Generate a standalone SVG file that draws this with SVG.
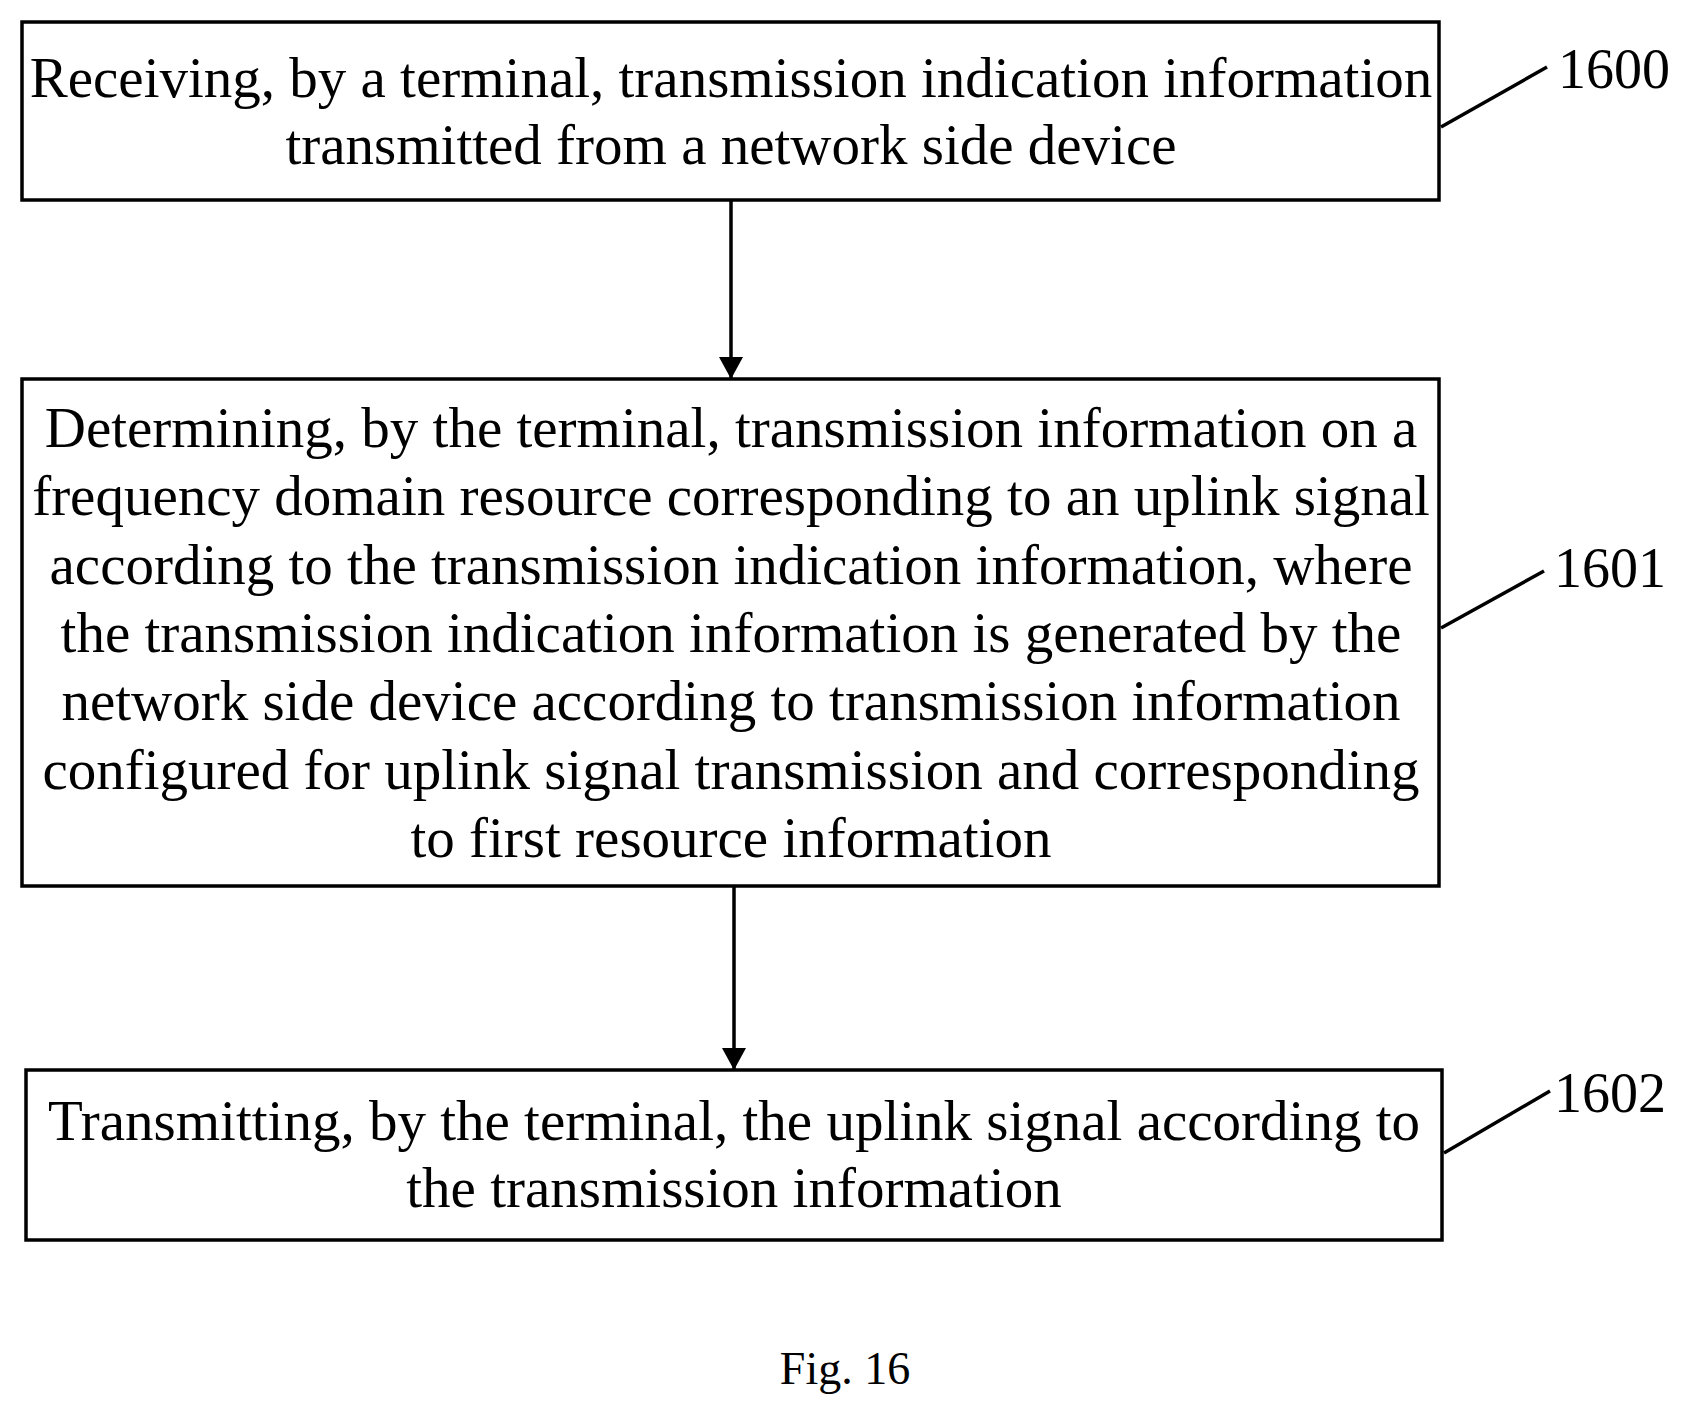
<svg xmlns="http://www.w3.org/2000/svg" width="1691" height="1412" viewBox="0 0 1691 1412">
<style>
.b{fill:#fff;stroke:#000;stroke-width:3.5}
.t{font-family:"Liberation Serif",serif;font-size:57px;text-anchor:middle;fill:#000}
.n{font-family:"Liberation Serif",serif;font-size:56px;fill:#000}
.l{stroke:#000;stroke-width:3.5;fill:none}
</style>
<defs><marker id="a" markerWidth="22" markerHeight="24" refX="22" refY="12" orient="auto" markerUnits="userSpaceOnUse" viewBox="0 0 22 24"><path d="M0,0 L22,12 L0,24 z" fill="#000"/></marker></defs>
<rect width="1691" height="1412" fill="#fff"/>
<g id="n1600"><rect class="b" x="22" y="22" width="1417" height="178"/>
<text class="t" x="731" y="97">Receiving, by a terminal, transmission indication information</text>
<text class="t" x="731" y="164">transmitted from a network side device</text>
<line class="l" x1="1441" y1="127" x2="1547" y2="67"/><text class="n" x="1558" y="88">1600</text></g>
<g id="n1601"><rect class="b" x="22" y="379" width="1417" height="507"/>
<text class="t" x="731" y="447">Determining, by the terminal, transmission information on a</text>
<text class="t" x="731" y="515">frequency domain resource corresponding to an uplink signal</text>
<text class="t" x="731" y="584">according to the transmission indication information, where</text>
<text class="t" x="731" y="652">the transmission indication information is generated by the</text>
<text class="t" x="731" y="720">network side device according to transmission information</text>
<text class="t" x="731" y="789">configured for uplink signal transmission and corresponding</text>
<text class="t" x="731" y="857">to first resource information</text>
<line class="l" x1="1441" y1="628" x2="1544" y2="571"/><text class="n" x="1554" y="587">1601</text></g>
<g id="n1602"><rect class="b" x="26" y="1070" width="1416" height="170"/>
<text class="t" x="734" y="1140">Transmitting, by the terminal, the uplink signal according to</text>
<text class="t" x="734" y="1207">the transmission information</text>
<line class="l" x1="1444" y1="1153" x2="1550" y2="1091"/><text class="n" x="1554" y="1112">1602</text></g>
<g id="connectors">
<line class="l" x1="731" y1="200" x2="731" y2="379" marker-end="url(#a)"/>
<line class="l" x1="734" y1="886" x2="734" y2="1070" marker-end="url(#a)"/>
</g>
<text x="845" y="1384" style="font-family:'Liberation Serif',serif;font-size:46px;text-anchor:middle">Fig. 16</text>
</svg>
